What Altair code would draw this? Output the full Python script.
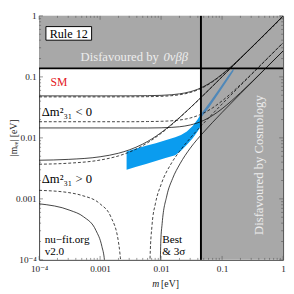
import altair as alt
import pandas as pd

# ---------------- axes ----------------
X_DOMAIN = [1e-4, 1.0]
Y_DOMAIN = [1e-4, 1.0]
TICK_VALUES = [1e-4, 1e-3, 1e-2, 1e-1, 1.0]
TICK_EXPONENTS = [-4, -3, -2, -1, 0]
X_TICK_LABELS = ["10⁻⁴", "0.001", "0.01", "0.1", "1"]
Y_TICK_LABELS = ["10⁻⁴", "0.001", "0.01", "0.1", "1"]
MINOR_TICKS = [k * 10.0 ** d for d in (-4, -3, -2, -1) for k in range(2, 10)]

# ---------------- bounds ----------------
BOUND_0NUBB = 0.138
BOUND_COSMO = 0.045

# ---------------- curves ----------------
IH_UP_M = [1e-4, 1e-3, 3e-3, 6e-3, 0.01, 0.015, 0.02, 0.03, 0.04, 0.05, 0.07, 0.1, 0.15, 0.2, 0.3, 0.5, 0.7, 1.0]
IH_UP_BEST = [0.0470, 0.0470, 0.0471, 0.0474, 0.0480, 0.0492, 0.0509, 0.0554, 0.0612, 0.0679, 0.0832, 0.1087, 0.1543, 0.2015, 0.2977, 0.4923, 0.6876, 0.9811]
IH_UP_3S = [0.0488, 0.0488, 0.0489, 0.0492, 0.0498, 0.0510, 0.0527, 0.0571, 0.0628, 0.0695, 0.0848, 0.1104, 0.1563, 0.2039, 0.301, 0.4974, 0.6947, 0.9912]

IH_LO_M = [1e-4, 1e-3, 3e-3, 6e-3, 0.01, 0.015, 0.02, 0.03, 0.05, 0.07, 0.1, 0.2, 0.5, 1.0]
IH_LO_BEST = [0.0184, 0.0184, 0.0184, 0.01853, 0.0187, 0.01907, 0.01962, 0.02116, 0.02558, 0.03111, 0.04045, 0.07463, 0.182, 0.3627]
IH_LO_3S = [0.01455, 0.01455, 0.01452, 0.01452, 0.01462, 0.01487, 0.01522, 0.01627, 0.01936, 0.02331, 0.03006, 0.05499, 0.1337, 0.2661]

NH_UP_M = [1e-4, 3e-4, 1e-3, 2e-3, 3e-3, 5e-3, 7e-3, 0.01, 0.015, 0.02, 0.03, 0.05, 0.07, 0.1, 0.2, 0.5, 1.0]
NH_UP_BEST = [0.00370, 0.00384, 0.00433, 0.00506, 0.00583, 0.00746, 0.00917, 0.01184, 0.01649, 0.02126, 0.03097, 0.05066, 0.07049, 0.1003, 0.2002, 0.5, 1.0]
NH_UP_3S = [0.00430, 0.00444, 0.00490, 0.00560, 0.00635, 0.00791, 0.00957, 0.01219, 0.01678, 0.02151, 0.03117, 0.05081, 0.07061, 0.1004, 0.2003, 0.5001, 1.0]

NH_LO_BEST_A_M = [1e-4, 3e-4, 5e-4, 1e-3, 1.5e-3, 2e-3, 2.1e-3, 2.2e-3, 2.3e-3]
NH_LO_BEST_A = [0.00138, 0.00127, 0.00114, 0.000827, 0.000508, 0.000196, 0.000135, 0.000074, 0.000013]
NH_LO_BEST_B_M = [0.0064, 0.0066, 0.0071, 0.0081, 0.01, 0.015, 0.02, 0.03, 0.05, 0.07, 0.1, 0.2, 0.5, 1.0]
NH_LO_BEST_B = [0.00002, 0.000112, 0.000368, 0.000851, 0.00172, 0.003941, 0.005981, 0.009892, 0.01745, 0.02485, 0.03586, 0.07225, 0.181, 0.362]

NH_LO_3S_A_M = [1e-4, 3.2e-4, 5.35e-4, 8.56e-4, 1.07e-3, 1.18e-3, 1.28e-3, 1.32e-3]
NH_LO_3S_A = [0.00083, 0.00065, 0.000509, 0.000303, 0.000166, 0.000098, 0.000031, 0.00001]
NH_LO_3S_B_M = [0.0094, 0.0099, 0.0104, 0.0124, 0.0154, 0.0204, 0.03, 0.05, 0.07, 0.1, 0.2, 0.5, 1.0]
NH_LO_3S_B = [0.000009, 0.000203, 0.000392, 0.001118, 0.002145, 0.003753, 0.006766, 0.01246, 0.018, 0.02614, 0.05296, 0.1329, 0.266]

# ---------------- Rule 12 band ----------------
BAND_M_WHITE = [0.002718, 0.003923, 0.005662, 0.008175, 0.0118, 0.01703, 0.02122, 0.02644, 0.03295, 0.03959, 0.045]
BAND_LO_WHITE = [0.003, 0.00335, 0.00374, 0.00417, 0.00466, 0.0052, 0.00615, 0.0077, 0.0099, 0.0127, 0.0158]
BAND_HI_WHITE = [0.00598, 0.00668, 0.00746, 0.00818, 0.00913, 0.0102, 0.0112, 0.0127, 0.0157, 0.0200, 0.0247]
BAND_M_GRAY = [0.045, 0.0615, 0.0887, 0.128, 0.154]
BAND_LO_GRAY = [0.0212, 0.0318, 0.0545, 0.0940, 0.1250]
BAND_HI_GRAY = [0.0247, 0.0372, 0.0625, 0.1070, 0.1378]

# ---------------- styling ----------------
W, H = 251, 251
FONT = "Liberation Serif, Times New Roman, DejaVu Serif, serif"
GRAY = "#a8a8a8"


def label_expr(labels):
    parts = []
    for e, lab in zip(TICK_EXPONENTS, labels):
        parts.append(f"round(log(datum.value)/LN10) == {e} ? '{lab}' : ")
    return "".join(parts) + "''"


XSCALE = alt.Scale(type="log", domain=X_DOMAIN, nice=False)
YSCALE = alt.Scale(type="log", domain=Y_DOMAIN, nice=False)
XAXIS = alt.Axis(values=TICK_VALUES, labelExpr=label_expr(X_TICK_LABELS), ticks=False, domain=False,
                 grid=False, labelFont=FONT, labelFontSize=9.5, labelColor="#222", labelPadding=4,
                 labelFlush=False, title=None)
YAXIS = alt.Axis(values=TICK_VALUES, labelExpr=label_expr(Y_TICK_LABELS), ticks=False, domain=False,
                 grid=False, labelFont=FONT, labelFontSize=9.5, labelColor="#222", labelPadding=3,
                 labelFlush=False, title=None)


def X(field):
    return alt.X(field, type="quantitative", scale=XSCALE, axis=XAXIS)


def Y(field):
    return alt.Y(field, type="quantitative", scale=YSCALE, axis=YAXIS)


def curves(specs):
    rows = []
    for name, ms, ys in specs:
        for m, y in zip(ms, ys):
            rows.append({"m": m, "mee": y, "curve": name})
    return pd.DataFrame(rows)


solid_df = curves([
    ("ih_up", IH_UP_M, IH_UP_3S), ("ih_lo", IH_LO_M, IH_LO_3S), ("nh_up", NH_UP_M, NH_UP_3S),
    ("nh_lo_a", NH_LO_3S_A_M, NH_LO_3S_A), ("nh_lo_b", NH_LO_3S_B_M, NH_LO_3S_B),
])
dashed_df = curves([
    ("ih_up", IH_UP_M, IH_UP_BEST), ("ih_lo", IH_LO_M, IH_LO_BEST), ("nh_up", NH_UP_M, NH_UP_BEST),
    ("nh_lo_a", NH_LO_BEST_A_M, NH_LO_BEST_A), ("nh_lo_b", NH_LO_BEST_B_M, NH_LO_BEST_B),
])

regions_df = pd.DataFrame({
    "x": [X_DOMAIN[0], BOUND_COSMO], "x2": [X_DOMAIN[1], X_DOMAIN[1]],
    "y": [BOUND_0NUBB, Y_DOMAIN[0]], "y2": [Y_DOMAIN[1], Y_DOMAIN[1]],
})
regions = alt.Chart(regions_df).mark_rect(color=GRAY).encode(
    x=X("x"), x2="x2", y=Y("y"), y2="y2")

band_w = alt.Chart(pd.DataFrame({"m": BAND_M_WHITE, "lo": BAND_LO_WHITE, "hi": BAND_HI_WHITE})).mark_area(
    color="#0a9cef", clip=True).encode(x=X("m"), y=Y("lo"), y2="hi")
band_g = alt.Chart(pd.DataFrame({"m": BAND_M_GRAY, "lo": BAND_LO_GRAY, "hi": BAND_HI_GRAY})).mark_area(
    color="#4f88b9", clip=True).encode(x=X("m"), y=Y("lo"), y2="hi")

solid = alt.Chart(solid_df).mark_line(color="#111", strokeWidth=0.8, clip=True, interpolate="monotone").encode(
    x=X("m"), y=Y("mee"), detail="curve:N")
dashed = alt.Chart(dashed_df).mark_line(color="#111", strokeWidth=0.8, strokeDash=[3, 2], clip=True,
                                        interpolate="monotone").encode(
    x=X("m"), y=Y("mee"), detail="curve:N")

hline = alt.Chart(pd.DataFrame({"y": [BOUND_0NUBB]})).mark_rule(color="black", strokeWidth=2).encode(y=Y("y"))
vline = alt.Chart(pd.DataFrame({"x": [BOUND_COSMO]})).mark_rule(color="black", strokeWidth=2).encode(x=X("x"))

major_df = pd.DataFrame({"v": TICK_VALUES})
minor_df = pd.DataFrame({"v": MINOR_TICKS})
tick_layers = []
for df, ln in ((major_df, 4), (minor_df, 2)):
    tick_layers += [
        alt.Chart(df).mark_rule(color="#555", strokeWidth=0.6).encode(x=X("v"), y=alt.value(H), y2=alt.value(H - ln)),
        alt.Chart(df).mark_rule(color="#555", strokeWidth=0.6).encode(x=X("v"), y=alt.value(0), y2=alt.value(ln)),
        alt.Chart(df).mark_rule(color="#555", strokeWidth=0.6).encode(y=Y("v"), x=alt.value(0), x2=alt.value(ln)),
        alt.Chart(df).mark_rule(color="#555", strokeWidth=0.6).encode(y=Y("v"), x=alt.value(W), x2=alt.value(W - ln)),
    ]

ANNOT_DF = pd.DataFrame({"a": [0]})


def txt(text, x, y, size=13, color="black", align="left", angle=0, style="normal"):
    return alt.Chart(ANNOT_DF).mark_text(text=text, align=align, baseline="middle", fontSize=size, font=FONT,
                                          color=color, angle=angle, fontStyle=style).encode(
        x=alt.value(x), y=alt.value(y))


box = alt.Chart(ANNOT_DF).mark_rect(fill="white", stroke="black", strokeWidth=1).encode(
    x=alt.value(7), x2=alt.value(54), y=alt.value(11), y2=alt.value(25))

annotations = [
    box,
    txt("Rule 12", 30.5, 18.5, size=12.5, align="center"),
    txt("Disfavoured by", 42.7, 42, color="#ededed"),
    txt("0νββ", 128, 42, color="#ededed", style="italic"),
    txt("SM", 11.7, 68.5, size=12, color="#e3181e"),
    txt("Δm²₃₁ < 0", 2.7, 98.5),
    txt("Δm²₃₁ > 0", 2.7, 167.5),
    txt("nu−fit.org", 5.7, 231, size=11.5),
    txt("v2.0", 5.7, 243, size=11.5),
    txt("Best", 126.7, 231, size=11.5),
    txt("& 3σ", 126.7, 243, size=11.5),
    txt("Disfavoured by Cosmology", 226.7, 153.5, color="#ededed", align="center", angle=270),
    # axis titles
    txt("m", 116.5, 276, size=10, color="#222", style="italic"),
    txt("[eV]", 125.5, 276, size=10, color="#222"),
    txt("|mₑₑ| [eV]", -26, 125.5, size=10, color="#222", align="center", angle=270),
]

chart = alt.layer(regions, band_w, band_g, solid, dashed, hline, vline, *tick_layers, *annotations).properties(
    width=W, height=H,
    padding={"left": 32, "top": 4, "right": 3, "bottom": 31},
    autosize=alt.AutoSizeParams(type="none"),
).configure_view(stroke="#444", strokeWidth=1)

chart.save("out.html", embed_options={"renderer": "svg", "actions": False})
